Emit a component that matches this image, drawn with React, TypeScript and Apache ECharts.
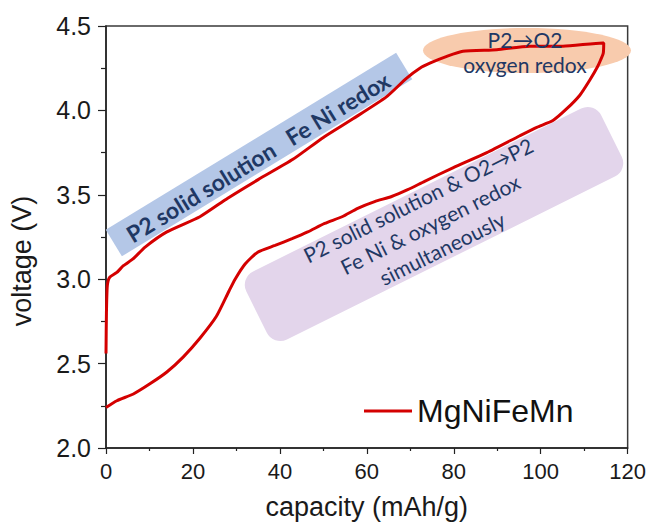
import React, { useEffect, useRef } from "react";
import * as echarts from "echarts";

// Charge branch (capacity in mAh/g, voltage in V)
const chargeCapacity = [0, 0.1, 0.3, 0.8, 2.5, 4.0, 6.2, 9.0, 14.0, 21.6, 28.0, 35.0, 43.0, 50.0, 56.8, 64.5, 69.1, 72.2, 74.5, 78.4, 82.1, 89.9, 97.5, 105.1, 114.3];
const chargeVoltage = [2.56, 2.8, 2.96, 3.01, 3.04, 3.08, 3.12, 3.19, 3.28, 3.37, 3.48, 3.59, 3.71, 3.84, 3.95, 4.08, 4.19, 4.25, 4.28, 4.32, 4.35, 4.36, 4.38, 4.38, 4.4];

// Discharge branch
const dischargeCapacity = [114.5, 114.4, 113.8, 113.1, 111.3, 109.0, 106.0, 102.8, 99.1, 95.2, 87.6, 79.8, 73.3, 69.4, 65.7, 61.8, 57.9, 54.3, 50.3, 46.4, 42.8, 38.9, 34.9, 32.0, 29.7, 28.3, 25.4, 21.6, 17.8, 14.0, 10.1, 6.3, 2.5, 0];
const dischargeVoltage = [4.4, 4.34, 4.3, 4.26, 4.18, 4.09, 4.01, 3.94, 3.9, 3.85, 3.75, 3.66, 3.58, 3.53, 3.49, 3.46, 3.42, 3.37, 3.33, 3.28, 3.24, 3.2, 3.16, 3.09, 3.0, 2.93, 2.78, 2.65, 2.54, 2.45, 2.38, 2.32, 2.28, 2.24];

const seriesName = "MgNiFeMn";
const xTitle = "capacity (mAh/g)";
const yTitle = "voltage (V)";
const xRange = { min: 0, max: 120, step: 20 };
const yRange = { min: 2.0, max: 4.5, step: 0.5 };

const noteSolidSolution = "P2 solid solution   Fe Ni redox";
const notePhaseChange = "P2\u2192O2\noxygen redox";
const noteDischarge = "P2 solid solution & O2\u2192P2\nFe Ni & oxygen redox\nsimultaneously";

const deg = Math.PI / 180;
const navy = "#1f3864";
const red = "#d40000";

export default function App() {
  const ref = useRef<HTMLDivElement>(null);

  useEffect(() => {
    const chart = echarts.init(ref.current!, null, { renderer: "svg" });
    const points: number[][] = [];
    chargeCapacity.forEach((c, i) => points.push([c, chargeVoltage[i]]));
    dischargeCapacity.forEach((c, i) => points.push([c, dischargeVoltage[i]]));

    chart.setOption({
      animation: false,
      backgroundColor: "#ffffff",
      grid: {
        left: 106,
        right: 21,
        top: 26,
        bottom: 75,
        show: true,
        borderColor: "#3a3a3a",
        borderWidth: 1.5,
        backgroundColor: "transparent",
      },
      legend: {
        data: [seriesName],
        left: 359,
        top: 390,
        icon: "rect",
        itemWidth: 48,
        itemHeight: 3,
        textStyle: {
          fontFamily: "Liberation Sans",
          fontSize: 32,
          color: "#111",
          padding: [0, 0, 10, 0],
        },
      },
      xAxis: {
        type: "value",
        min: xRange.min,
        max: xRange.max,
        interval: xRange.step,
        axisLine: { lineStyle: { color: "#222", width: 1.5 } },
        axisTick: { length: 6, lineStyle: { color: "#222", width: 1.2 } },
        minorTick: { show: true, splitNumber: 2, length: 3, lineStyle: { color: "#222", width: 1.2 } },
        splitLine: { show: false },
        axisLabel: {
          margin: 12,
          fontFamily: "Liberation Sans",
          fontSize: 22,
          color: "#1a1a1a",
        },
        name: xTitle,
        nameLocation: "middle",
        nameGap: 45,
        nameTextStyle: { fontFamily: "Liberation Sans", fontSize: 27, color: "#1a1a1a" },
      },
      yAxis: {
        type: "value",
        min: yRange.min,
        max: yRange.max,
        interval: yRange.step,
        axisLine: { show: true, lineStyle: { color: "#222", width: 1.5 } },
        axisTick: { show: true, length: 8, lineStyle: { color: "#222", width: 1.2 } },
        minorTick: { show: true, splitNumber: 2, length: 5, lineStyle: { color: "#222", width: 1.2 } },
        splitLine: { show: false },
        axisLabel: {
          margin: 15,
          fontFamily: "Liberation Sans",
          fontSize: 25,
          color: "#1a1a1a",
          formatter: (v: number) => v.toFixed(1),
        },
      },
      series: [
        {
          name: seriesName,
          type: "line",
          data: points,
          showSymbol: false,
          smooth: 0.2,
          z: 2,
          lineStyle: { color: red, width: 3 },
          itemStyle: { color: red },
        },
      ],
      graphic: [
        {
          type: "rect",
          x: 259,
          y: 154.5,
          rotation: 31.4 * deg,
          shape: { x: -170, y: -15.5, width: 340, height: 31 },
          style: { fill: "#b4c7e7" },
          z: 1,
        },
        {
          type: "text",
          x: 258,
          y: 157,
          rotation: 31.4 * deg,
          style: {
            text: noteSolidSolution,
            fill: navy,
            font: "bold 23px Lato",
            textAlign: "center",
            textVerticalAlign: "middle",
          },
          z: 5,
        },
        {
          type: "ellipse",
          shape: { cx: 527, cy: 50.5, rx: 104, ry: 22.5 },
          style: { fill: "#f8cbad" },
          z: 1,
        },
        {
          type: "text",
          x: 525,
          y: 52,
          style: {
            text: notePhaseChange,
            fill: navy,
            font: "21px Lato",
            lineHeight: 25,
            textAlign: "center",
            textVerticalAlign: "middle",
          },
          z: 5,
        },
        {
          type: "rect",
          x: 434,
          y: 224,
          rotation: 26.4 * deg,
          shape: { x: -198, y: -38, width: 396, height: 76, r: 15 },
          style: { fill: "#e3d5eb" },
          z: 1,
        },
        {
          type: "text",
          x: 430,
          y: 224,
          rotation: 26.4 * deg,
          style: {
            text: noteDischarge,
            fill: navy,
            font: "21px Lato",
            lineHeight: 27,
            textAlign: "center",
            textVerticalAlign: "middle",
          },
          z: 5,
        },
        {
          type: "text",
          x: 22,
          y: 261,
          rotation: 90 * deg,
          style: {
            text: yTitle,
            fill: "#1a1a1a",
            font: "27px Liberation Sans",
            textAlign: "center",
            textVerticalAlign: "middle",
          },
          z: 5,
        },
      ],
    });
    return () => chart.dispose();
  }, []);

  return <div ref={ref} style={{ position: "fixed", left: 0, top: 0, width: 649, height: 525 }} />;
}
